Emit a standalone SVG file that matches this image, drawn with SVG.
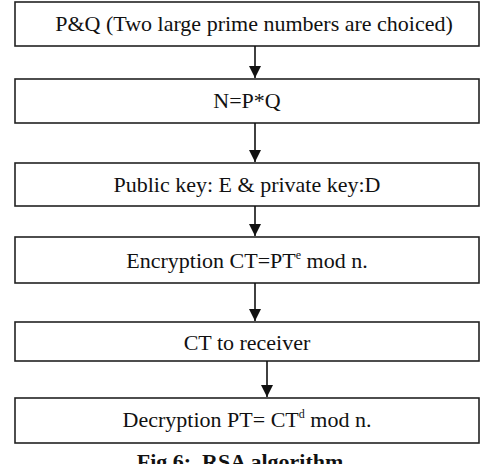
<svg xmlns="http://www.w3.org/2000/svg" width="485" height="464" viewBox="0 0 485 464">
<style>
.box{fill:#fff;stroke:#222;stroke-width:1.6}
.t{font-family:"Liberation Serif","Times New Roman",serif;font-size:22px;fill:#111;text-anchor:middle}
.sup{font-size:12px}
.line{stroke:#111;stroke-width:1.6;fill:none}
.cap{font-family:"Liberation Serif","Times New Roman",serif;font-size:22px;font-weight:bold;fill:#111;text-anchor:middle}
</style>
<defs>
<marker id="ah" viewBox="0 0 12 12" refX="12" refY="6" markerWidth="12" markerHeight="12" markerUnits="userSpaceOnUse" orient="auto">
<path d="M0,0 L12,6 L0,12 Z" fill="#111"/>
</marker>
</defs>
<rect width="485" height="464" fill="#fff"/>
<g id="n1"><rect class="box" x="15" y="2" width="464" height="44"/><text class="t" x="254" y="31">P&amp;Q (Two large prime numbers are choiced)</text></g>
<g id="n2"><rect class="box" x="15" y="79" width="464" height="44"/><text class="t" x="247" y="108">N=P*Q</text></g>
<g id="n3"><rect class="box" x="15" y="163" width="464" height="43"/><text class="t" x="247" y="192">Public key: E &amp; private key:D</text></g>
<g id="n4"><rect class="box" x="15" y="237" width="464" height="46"/><text class="t" x="247" y="268">Encryption CT=PT<tspan class="sup" dy="-9">e</tspan><tspan dy="9"> mod n.</tspan></text></g>
<g id="n5"><rect class="box" x="15" y="322" width="464" height="39"/><text class="t" x="247" y="350">CT to receiver</text></g>
<g id="n6"><rect class="box" x="15" y="398" width="464" height="45"/><text class="t" x="247" y="427">Decryption PT= CT<tspan class="sup" dy="-9">d</tspan><tspan dy="9"> mod n.</tspan></text></g>
<g id="connectors">
<line class="line" x1="255" y1="46" x2="255" y2="78" marker-end="url(#ah)"/>
<line class="line" x1="255" y1="123" x2="255" y2="162" marker-end="url(#ah)"/>
<line class="line" x1="255" y1="206" x2="255" y2="236" marker-end="url(#ah)"/>
<line class="line" x1="255" y1="283" x2="255" y2="321" marker-end="url(#ah)"/>
<line class="line" x1="267" y1="361" x2="267" y2="397" marker-end="url(#ah)"/>
</g>
<text class="cap" x="240" y="469" xml:space="preserve">Fig 6:  RSA algorithm</text>
</svg>
